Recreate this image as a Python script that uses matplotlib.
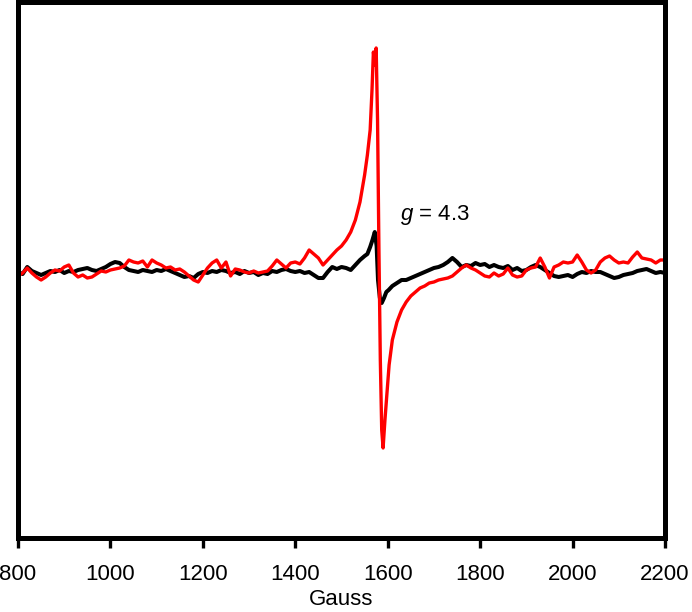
import numpy as np
import matplotlib
matplotlib.use("Agg")
import matplotlib.pyplot as plt

plt.rcParams['font.family'] = ['Liberation Sans', 'DejaVu Sans']
plt.rcParams['mathtext.fontset'] = 'custom'
plt.rcParams['mathtext.rm'] = 'Liberation Sans'
plt.rcParams['mathtext.it'] = 'Liberation Sans:italic'

# field axis (Gauss): coarse grid below and above the signal, finer points at the line
gauss_lo = np.arange(800, 1550, 10)
gauss_hi = np.arange(1610, 2210, 10)

black_peak_gauss = [1550, 1556, 1562, 1567, 1572, 1576, 1579, 1583, 1587, 1592, 1597, 1602]
red_peak_gauss = [1550, 1556, 1562, 1566, 1569, 1572, 1575, 1578, 1581, 1584, 1587, 1590,
                  1594, 1598, 1603]

# black spectrum (arb. units)
black_lo = [-2, -4, 3, -1, -3, -5, -3, -1, -2, 0,
            -3, -1, -2, 0, 1, 2, 0, -1, 1, 3,
            6, 8, 7, 3, 0, -1, -2, 0, -1, -2,
            0, -1, 1, -1, -3, -5, -7, -6, -8, -4,
            -2, -3, -1, -2, 0, -1, -3, -2, -4, -1,
            -3, -2, -5, -3, -4, -1, -2, 0, 1, -1,
            -2, -1, -3, -2, -5, -8, -8, -2, 3, 1,
            3, 2, 0, 5, 10]
black_peak = [14, 16, 23, 30, 38, 24, -10, -28, -33, -28, -22, -20]
black_hi = [-16, -13, -10, -10, -8, -6, -4, -2, 0, 2,
            3, 5, 8, 12, 8, 3, 5, 4, 7, 5,
            6, 3, 5, 3, 2, 4, 0, 2, -1, 0,
            3, 5, 3, 0, -3, -6, -7, -6, -5, -7,
            -4, -2, -3, -1, -2, -2, -4, -6, -8, -7,
            -5, -4, -3, -1, 0, 1, -1, -3, -2, -3]

# red spectrum (arb. units)
red_lo = [-6, -3, 2, -3, -7, -10, -7, -3, 0, -1,
          3, 5, -3, -7, -5, -8, -7, -4, -1, -2,
          0, 1, 2, 4, 10, 8, 7, 9, 3, 10,
          7, 5, 2, 3, 0, 1, -2, -6, -10, -12,
          -5, 2, 7, 10, 2, 8, -6, 1, 0, -2,
          -3, -1, -3, -2, -1, 4, 10, 6, 2, 7,
          8, 6, 12, 20, 16, 12, 5, 10, 15, 20,
          24, 30, 38, 50, 68]
red_peak = [95, 115, 140, 180, 218, 205, 222, 150, 20, -90, -160, -178, -150, -125, -95]
red_hi = [-70, -52, -40, -32, -26, -22, -18, -16, -13, -12,
          -10, -9, -8, -6, -2, 2, 5, 2, 0, -3,
          -6, -7, -3, -6, -4, 2, -5, -7, -6, 0,
          2, 3, 12, 3, -8, 3, 5, 8, 7, 8,
          15, 8, 0, -3, 0, 8, 12, 14, 10, 7,
          8, 7, 13, 18, 12, 11, 10, 7, 10, 10]

black_x = np.concatenate([gauss_lo, black_peak_gauss, gauss_hi])
black_y = np.array(black_lo + black_peak + black_hi)
red_x = np.concatenate([gauss_lo, red_peak_gauss, gauss_hi])
red_y = np.array(red_lo + red_peak + red_hi)

fig = plt.figure(figsize=(6.92, 6.12), dpi=100)
ax = fig.add_axes([18 / 692, 74 / 612, 647 / 692, 536 / 612])

ax.plot(black_x, black_y, color='black', lw=2.9)
ax.plot(red_x, red_y, color='#ff0000', lw=2.4)

ax.text(1627, 55, r'$g$ = 4.3', fontsize=16, va='center', ha='left')

ax.set_xlim(800, 2200)
ax.set_ylim(-268, 268)
ax.set_xticks(np.arange(800, 2201, 200))
ax.set_yticks([])
ax.tick_params(axis='x', direction='out', length=7.5, width=2.4, labelsize=16, pad=11)
for s in ax.spines.values():
    s.set_linewidth(3.6)
ax.set_xlabel('Gauss', fontsize=16, labelpad=3)

fig.savefig('out.png', dpi=100)
